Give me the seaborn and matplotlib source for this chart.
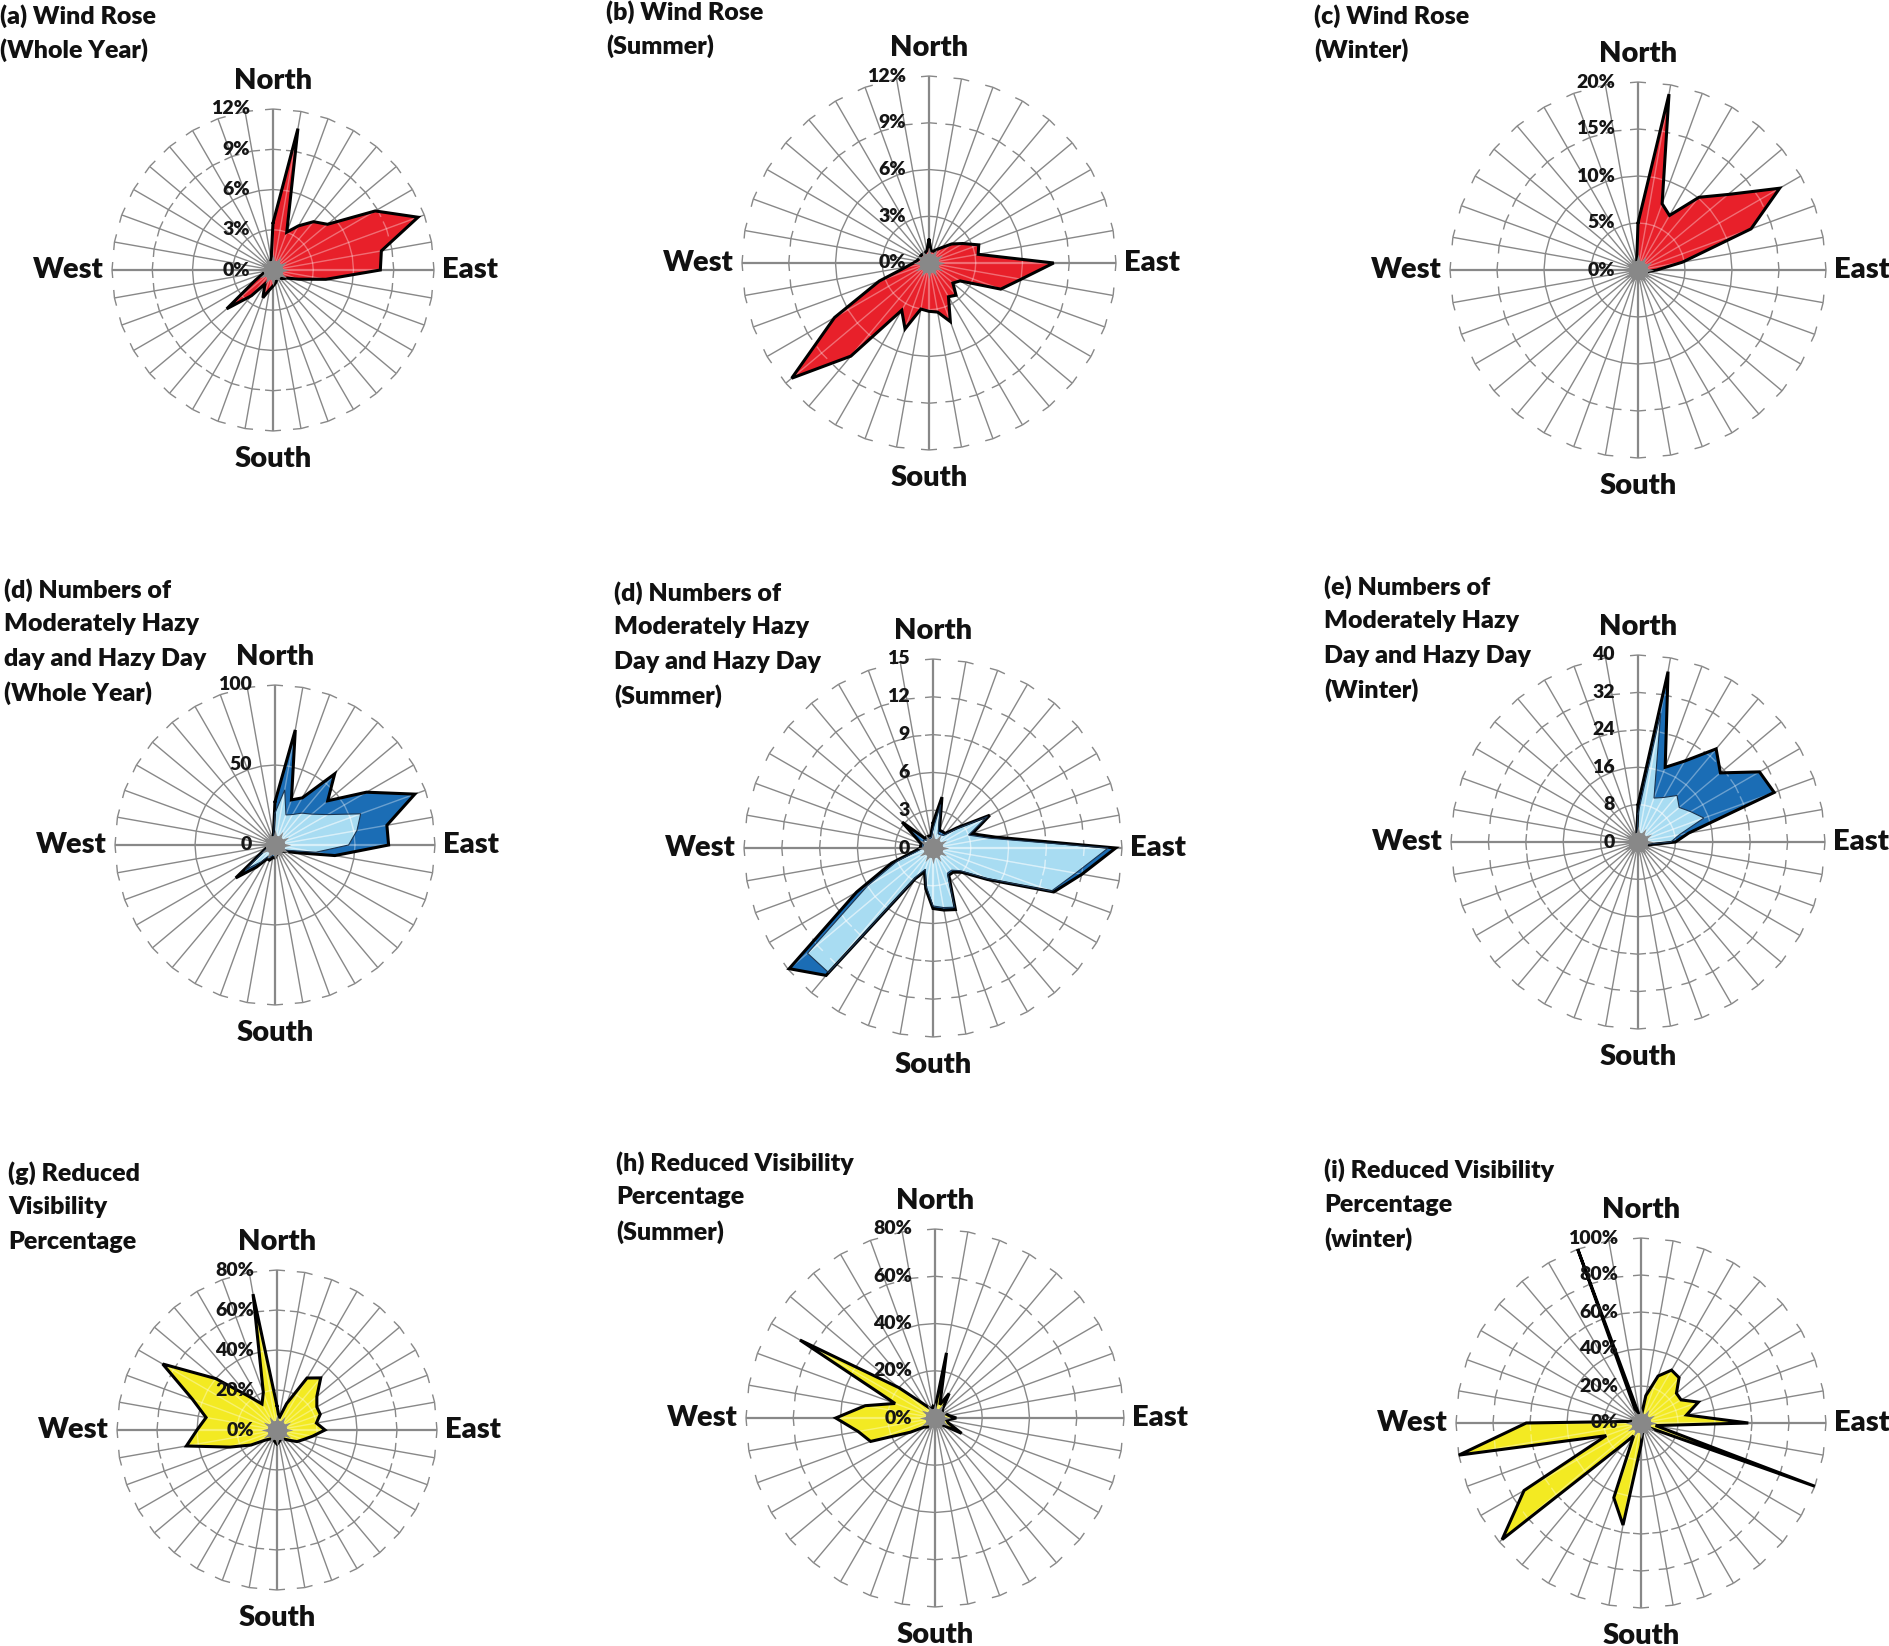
import numpy as np
import matplotlib
matplotlib.use('Agg')
import matplotlib.pyplot as plt
from matplotlib.collections import LineCollection
import seaborn as sns

# wind directions, clockwise from north, every 10 degrees
directions = np.arange(0, 360, 10)

# (a)-(c) wind rose, % of hours
wind_year = [3.5, 10.7, 3.0, 3.8, 4.7, 5.3, 8.8, 11.5, 8.2, 8.0, 4.0, 2.0,
             1.2, 1.0, 0.8, 0.8, 0.8, 1.0, 1.2, 1.5, 2.2, 1.2, 2.5, 4.5,
             1.5, 0.8, 0.6, 0.5, 0.5, 0.5, 0.5, 0.5, 0.5, 0.5, 0.6, 0.8]
wind_summer = [1.5, 0.8, 0.8, 1.0, 1.3, 1.9, 2.5, 3.4, 3.2, 8.0, 6.0, 4.9,
               2.3, 2.0, 2.7, 2.5, 4.0, 3.2, 3.1, 3.0, 4.5, 3.5, 7.8, 11.5,
               7.0, 3.4, 1.5, 1.0, 0.8, 0.7, 0.7, 0.7, 0.7, 0.7, 0.7, 0.8]
wind_winter = [5.0, 19.0, 7.5, 6.7, 10.1, 12.5, 17.4, 12.8, 4.8, 2.0, 1.0, 0.8,
               0.7, 0.6, 0.6, 0.6, 0.6, 0.6, 0.6, 0.6, 0.6, 0.6, 0.6, 0.6,
               0.6, 0.6, 0.6, 0.6, 0.6, 0.6, 0.6, 0.6, 0.6, 0.6, 0.6, 0.8]

# (d)-(e) numbers of moderately hazy + hazy days (dark) and hazy days (light)
haze_year_total = [27, 73, 30, 34, 58, 43, 66, 93, 71, 71, 38, 14,
                   8, 6, 5, 5, 5, 6, 8, 8, 10, 10, 18, 32,
                   10, 6, 4, 4, 4, 4, 4, 4, 4, 4, 5, 6]
haze_year_hazy = [20, 35, 20, 22, 26, 30, 38, 57, 52, 46, 26, 10,
                  6, 5, 4, 4, 4, 5, 6, 6, 8, 8, 14, 24,
                  8, 5, 3, 3, 3, 3, 3, 3, 3, 3, 4, 5]
haze_summer_total = [2.0, 4.1, 1.5, 1.5, 1.5, 2.5, 5.2, 3.3, 5.0, 14.5, 12.0, 10.2,
                     5.0, 3.0, 2.5, 2.5, 5.2, 5.0, 4.8, 3.3, 2.0, 2.8, 13.2, 14.9,
                     7.0, 3.5, 1.5, 1.0, 1.0, 1.0, 1.5, 3.2, 1.0, 1.0, 1.0, 1.0]
haze_summer_hazy = [1.5, 3.5, 1.2, 1.2, 1.3, 2.3, 5.0, 3.0, 4.5, 13.9, 11.5, 10.0,
                    4.8, 2.8, 2.3, 2.3, 5.0, 4.8, 4.6, 3.1, 1.8, 2.6, 12.9, 13.0,
                    6.0, 3.0, 1.2, 0.8, 0.8, 0.8, 0.8, 1.0, 0.8, 0.8, 0.8, 0.8]
haze_winter_total = [8, 37, 17, 20, 26, 23, 30, 31, 11, 8, 3, 2,
                     1.5, 1.5, 1.5, 1.5, 1.5, 1.5, 1.5, 1.5, 1.5, 1.5, 1.5, 1.5,
                     1.5, 1.5, 1.5, 1.5, 1.5, 1.5, 1.5, 1.5, 1.5, 1.5, 1.5, 1.5]
haze_winter_hazy = [6, 28, 10, 11, 13, 11.5, 13, 15, 9, 7, 2.5, 1.2,
                    1.2, 1.2, 1.2, 1.2, 1.2, 1.2, 1.2, 1.2, 1.2, 1.2, 1.2, 1.2,
                    1.2, 1.2, 1.2, 1.2, 1.2, 1.2, 1.2, 1.2, 1.2, 1.2, 1.2, 1.2]

# (g)-(i) reduced visibility percentage
vis_year = [12, 6, 14, 30, 34, 26, 23, 23, 20, 24, 18, 14,
            11.6, 8, 6, 5, 5, 6, 7, 6, 5, 5, 6, 8,
            15, 25, 46, 40, 36, 45, 66, 40, 22, 15, 20, 69]
vis_summer = [4, 28, 6, 12, 5, 4, 4, 5, 6, 9, 5, 6,
              13, 5, 3, 3, 3, 3, 3, 3, 3, 4, 5, 6,
              12, 29, 33, 42, 30, 18, 66, 20, 8, 5, 4, 5]
vis_winter = [3, 15, 27, 33, 32, 25, 25, 33, 25, 58, 8, 100,
              5, 4, 3, 3, 3, 5, 12, 56, 43, 8, 15, 98,
              73, 20, 100, 62, 5, 3, 3, 3, 3, 3, 100, 3]

# radial tick levels
ticks_wind = [0, 3, 6, 9, 12]
ticks_wind_winter = [0, 5, 10, 15, 20]
ticks_haze_year = [0, 50, 100]
ticks_haze_summer = [0, 3, 6, 9, 12, 15]
ticks_haze_winter = [0, 8, 16, 24, 32, 40]
ticks_vis = [0, 20, 40, 60, 80]
ticks_vis_winter = [0, 20, 40, 60, 80, 100]

RED = '#E8202A'
YELLOW = '#F3EA22'
DARK_BLUE = '#1B6DB5'
LIGHT_BLUE = '#A8DCF2'
GRID = '#888888'

sns.set_theme(style='white')
plt.rcParams['font.family'] = ['Lato', 'DejaVu Sans']

W, H = 1890, 1646
fig = plt.figure(figsize=(W / 100, H / 100), dpi=100)
fig.patch.set_facecolor('white')


def grid_segments(levels, px):
    th = np.deg2rad(directions)
    sx, sy = np.sin(th), np.cos(th)
    rmax = levels[-1]
    spokes = [[(0, 0), (rmax * a, rmax * b)] for a, b in zip(sx, sy)]
    rings = []
    d = 8 * px
    for lv in levels[1:]:
        vx, vy = lv * sx, lv * sy
        for i in range(len(directions)):
            j = (i + 1) % len(directions)
            p0 = np.array([vx[i], vy[i]])
            p1 = np.array([vx[j], vy[j]])
            L = np.hypot(*(p1 - p0))
            if L <= 2 * d + 3 * px:
                rings.append([p0, p1])
            else:
                u = (p1 - p0) / L
                rings.append([p0, p0 + u * d])
                rings.append([p1 - u * d, p1])
    return spokes, rings


def radar(cx, cy, R, levels, series, unit, title, tx, ty):
    rmax = levels[-1]
    k = 1.5
    ax = fig.add_axes([(cx - R * k) / W, 1 - (cy + R * k) / H,
                       2 * R * k / W, 2 * R * k / H])
    ax.set_xlim(-rmax * k, rmax * k)
    ax.set_ylim(-rmax * k, rmax * k)
    ax.axis('off')
    px = rmax / R

    spokes, rings = grid_segments(levels, px)
    widths = [1.6 if d % 90 == 0 else 1.0 for d in directions]
    ax.add_collection(LineCollection(spokes, colors=GRID, linewidths=widths, zorder=1))
    ax.add_collection(LineCollection(rings, colors=GRID, linewidths=1.0, zorder=1))

    th = np.deg2rad(directions)
    for vals, fill, lw, edge in series:
        v = np.asarray(vals, dtype=float)
        x, y = v * np.sin(th), v * np.cos(th)
        patch = ax.fill(x, y, color=fill, lw=0, zorder=2)[0]
        for segs, w in ((spokes, widths), (rings, 1.0)):
            lc = LineCollection(segs, colors='white', alpha=0.35, linewidths=w, zorder=2.5)
            ax.add_collection(lc)
            lc.set_clip_path(patch)
        sns.lineplot(x=np.append(x, x[0]), y=np.append(y, y[0]), sort=False,
                     estimator=None, color=edge, lw=lw, ax=ax, zorder=3, legend=False)
        ax.lines[-1].set_solid_joinstyle('miter')

    ax.scatter([0], [0], s=520, marker=(12, 1, 0), color=GRID, lw=0, zorder=4)
    ax.scatter([0], [0], s=200, color=GRID, lw=0, zorder=4)

    for lv in levels:
        ax.text(-23 * px, lv, f'{lv}{unit}', ha='right', va='center',
                fontsize=14, fontweight='heavy', color='#151515', zorder=6)

    off = 28 * px
    kw = dict(fontsize=21, fontweight='heavy', color='#111111')
    ax.text(0, rmax + off, 'North', ha='center', va='center', **kw)
    ax.text(0, -rmax - off, 'South', ha='center', va='center', **kw)
    ax.text(-rmax - 8 * px, 0, 'West', ha='right', va='center', **kw)
    ax.text(rmax + 8 * px, 0, 'East', ha='left', va='center', **kw)

    for n, line in enumerate(title):
        fig.text(tx / W, 1 - (ty + n * 34.5) / H, line, ha='left', va='center',
                 fontsize=18, fontweight='heavy', color='#111111')
    return ax


OUT = 2.2
THIN = 0.8

radar(273, 270, 161, ticks_wind, [(wind_year, RED, OUT, 'black')], '%',
      ['(a) Wind Rose', '(Whole Year)'], 0, 16)
radar(929, 263, 187, ticks_wind, [(wind_summer, RED, OUT, 'black')], '%',
      ['(b) Wind Rose', '(Summer)'], 606, 12)
radar(1638, 270, 188, ticks_wind_winter, [(wind_winter, RED, OUT, 'black')], '%',
      ['(c) Wind Rose', '(Winter)'], 1314, 16)

radar(275, 845, 160, ticks_haze_year,
      [(haze_year_total, DARK_BLUE, OUT, 'black'), (haze_year_hazy, LIGHT_BLUE, THIN, '#1c3550')], '',
      ['(d) Numbers of', 'Moderately Hazy', 'day and Hazy Day', '(Whole Year)'], 4, 590)
radar(933, 848, 189, ticks_haze_summer,
      [(haze_summer_total, DARK_BLUE, OUT, 'black'), (haze_summer_hazy, LIGHT_BLUE, THIN, '#1c3550')], '',
      ['(d) Numbers of', 'Moderately Hazy', 'Day and Hazy Day', '(Summer)'], 614, 593)
radar(1638, 842, 187, ticks_haze_winter,
      [(haze_winter_total, DARK_BLUE, OUT, 'black'), (haze_winter_hazy, LIGHT_BLUE, THIN, '#1c3550')], '',
      ['(e) Numbers of', 'Moderately Hazy', 'Day and Hazy Day', '(Winter)'], 1324, 587)

radar(277, 1430, 160, ticks_vis, [(vis_year, YELLOW, OUT, 'black')], '%',
      ['(g) Reduced', 'Visibility', 'Percentage'], 8, 1173)
radar(935, 1418, 189, ticks_vis, [(vis_summer, YELLOW, OUT, 'black')], '%',
      ['(h) Reduced Visibility', 'Percentage', '(Summer)'], 616, 1163)
radar(1641, 1423, 185, ticks_vis_winter, [(vis_winter, YELLOW, OUT, 'black')], '%',
      ['(i) Reduced Visibility', 'Percentage', '(winter)'], 1324, 1170)

fig.savefig('out.png', dpi=100, facecolor='white')
